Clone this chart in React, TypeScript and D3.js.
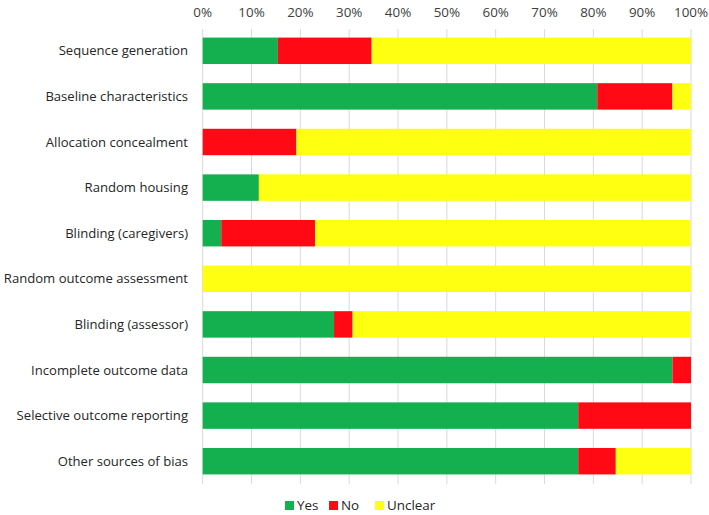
import React from "react";
import * as d3 from "d3";

const categories = [
  "Sequence generation",
  "Baseline characteristics",
  "Allocation concealment",
  "Random housing",
  "Blinding (caregivers)",
  "Random outcome assessment",
  "Blinding (assessor)",
  "Incomplete outcome data",
  "Selective outcome reporting",
  "Other sources of bias",
];
const yesValues = [15.4, 80.8, 0, 11.5, 3.8, 0, 26.9, 96.2, 76.9, 76.9];
const noValues = [19.2, 15.4, 19.2, 0, 19.2, 0, 3.8, 3.8, 23.1, 7.7];
const unclearValues = [65.4, 3.8, 80.8, 88.5, 76.9, 100, 69.2, 0, 0, 15.4];
const tickValues = [0, 10, 20, 30, 40, 50, 60, 70, 80, 90, 100];
const seriesNames = ["Yes", "No", "Unclear"];
const seriesColors = ["#14b050", "#ff0a14", "#ffff12"];

const W = 709;
const H = 515;
const FONT = "'Open Sans', sans-serif";

export default function App() {
  const x = d3.scaleLinear().domain([0, 100]).range([202.7, 691]);
  const y = d3
    .scaleBand<string>()
    .domain(categories)
    .range([28, 484])
    .paddingInner(0.42)
    .paddingOuter(0.21);

  const rows = categories.map((c, i) => ({
    cat: c,
    Yes: yesValues[i],
    No: noValues[i],
    Unclear: unclearValues[i],
  }));
  const stack = d3.stack<any>().keys(seriesNames)(rows);

  const legendX = [285, 329, 375];

  return (
    <svg
      width={W}
      height={H}
      style={{ position: "absolute", left: 0, top: 0, display: "block", background: "#fff" }}
      fontFamily={FONT}
    >
      {tickValues.map((t) => (
        <g key={t}>
          <line x1={x(t)} x2={x(t)} y1={29} y2={484} stroke="#d9d9d9" strokeWidth={1} />
          <text x={x(t)} y={17} textAnchor="middle" fontSize={13.4} fill="#404040">
            {t}%
          </text>
        </g>
      ))}
      {stack.map((s, si) => (
        <g key={s.key} fill={seriesColors[si]}>
          {s.map((d, i) =>
            d[1] - d[0] > 0 ? (
              <rect
                key={i}
                x={x(d[0])}
                width={x(d[1]) - x(d[0])}
                y={y(categories[i])!}
                height={y.bandwidth()}
              />
            ) : null
          )}
        </g>
      ))}
      {categories.map((c) => (
        <text
          key={c}
          x={188}
          y={y(c)! + y.bandwidth() / 2}
          dy="0.35em"
          textAnchor="end"
          fontSize={13.1}
          fill="#262626"
        >
          {c}
        </text>
      ))}
      {seriesNames.map((n, i) => (
        <g key={n}>
          <rect x={legendX[i]} y={501} width={9} height={9} fill={seriesColors[i]} />
          <text x={legendX[i] + 12} y={505.5} dy="0.35em" fontSize={13.4} fill="#262626">
            {n}
          </text>
        </g>
      ))}
    </svg>
  );
}
